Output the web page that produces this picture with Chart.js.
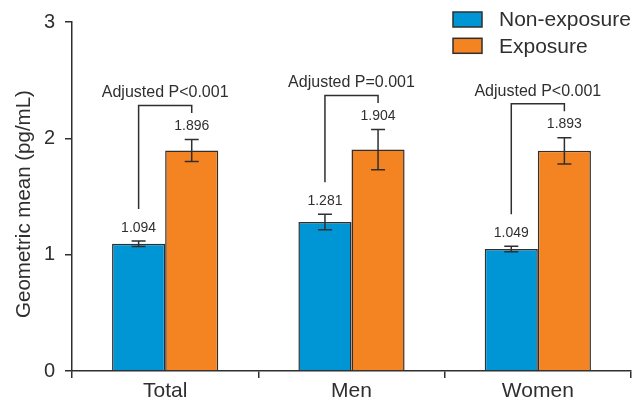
<!DOCTYPE html>
<html>
<head>
<meta charset="utf-8">
<script src="https://cdn.jsdelivr.net/npm/chart.js@4"></script>
<style>
    html, body { margin: 0; padding: 0; background: #fff; }
    #wrap { width: 633px; height: 405px; }
</style>
</head>
<body>
<div id="wrap"><canvas id="GeoChart" width="633" height="405"></canvas></div>
<script>
// ---------------- Data ----------------
const categories = ["Total", "Men", "Women"];
const seriesNames = ["Non-exposure", "Exposure"];

const nonExposure = [1.094, 1.281, 1.049];
const exposure = [1.896, 1.904, 1.893];

// half-length of error bars
const nonExposureErr = [0.023, 0.067, 0.023];
const exposureErr = [0.095, 0.173, 0.113];

const pLabels = ["Adjusted P<0.001", "Adjusted P=0.001", "Adjusted P<0.001"];

const yTicks = [0, 1, 2, 3];
const yTitle = "Geometric mean (pg/mL)";

const FONT = "'Liberation Sans', Arial, sans-serif";
const INK = "#2f2f2f";
const colors = ["#0096d6", "#f48421"];


// ---------------- Error bars, value labels, brackets ----------------
const annotatePlugin = {
    id: "annotate",
    afterDatasetsDraw(chart) {
        const ctx = chart.ctx;
        const y = chart.scales.y;
        const errs = [nonExposureErr, exposureErr];
        const capTop = [[], []];

        ctx.save();
        ctx.strokeStyle = INK;
        ctx.fillStyle = INK;
        ctx.lineWidth = 1.5;
        ctx.font = "14px " + FONT;
        ctx.textAlign = "center";
        ctx.textBaseline = "middle";

        chart.data.datasets.forEach((ds, di) => {
            const meta = chart.getDatasetMeta(di);
            meta.data.forEach((bar, i) => {
                const v = ds.data[i];
                const hi = y.getPixelForValue(v + errs[di][i]);
                const lo = y.getPixelForValue(v - errs[di][i]);
                const x = bar.x;
                ctx.beginPath();
                ctx.moveTo(x, hi); ctx.lineTo(x, lo);
                ctx.moveTo(x - 7, hi); ctx.lineTo(x + 7, hi);
                ctx.moveTo(x - 7, lo); ctx.lineTo(x + 7, lo);
                ctx.stroke();
                ctx.fillText(v.toFixed(3), x, hi - 13);
                capTop[di][i] = hi;
            });
        });

        const m0 = chart.getDatasetMeta(0);
        const m1 = chart.getDatasetMeta(1);
        ctx.font = "16px " + FONT;
        categories.forEach((c, i) => {
            const xl = m0.data[i].x;
            const xr = m1.data[i].x;
            const top = capTop[1][i] - 34;
            const leftBottom = capTop[0][i] - 32;
            ctx.beginPath();
            ctx.moveTo(xl, leftBottom);
            ctx.lineTo(xl, top);
            ctx.lineTo(xr, top);
            ctx.lineTo(xr, top + 7.5);
            ctx.stroke();
            ctx.fillText(pLabels[i], (xl + xr) / 2, top - 12.5);
        });

        ctx.restore();
    }
};


// ---------------- Legend + y title ----------------
const legendPlugin = {
    id: "boxLegend",
    afterDraw(chart) {
        const ctx = chart.ctx;
        ctx.save();
        ctx.font = "21px " + FONT;
        ctx.textBaseline = "middle";
        ctx.textAlign = "left";
        chart.data.datasets.forEach((ds, i) => {
            const top = 12 + i * 26.3;
            ctx.fillStyle = ds.backgroundColor;
            ctx.fillRect(453, top, 29, 15);
            ctx.strokeStyle = INK;
            ctx.lineWidth = 1.5;
            ctx.strokeRect(453, top, 29, 15);
            ctx.fillStyle = INK;
            ctx.fillText(ds.label, 499, top + 8.5);
        });

        // axis title, sits a little below the chart-area centre in the original
        ctx.translate(24, 204);
        ctx.rotate(-Math.PI / 2);
        ctx.textAlign = "center";
        ctx.font = "20.5px " + FONT;
        ctx.fillText(yTitle, 0, 0);
        ctx.restore();
    }
};


// ---------------- Chart ----------------
document.addEventListener("DOMContentLoaded", () => {

    const ctx = document.getElementById("GeoChart").getContext("2d");

    new Chart(ctx, {
        type: "bar",
        data: {
            labels: categories,
            datasets: [nonExposure, exposure].map((values, i) => ({
                label: seriesNames[i],
                data: values,
                backgroundColor: colors[i],
                borderColor: INK,
                borderWidth: 1.5,
                borderSkipped: "bottom",
                categoryPercentage: 0.57,
                barPercentage: 1
            }))
        },
        options: {
            responsive: false,
            animation: false,
            devicePixelRatio: 1,
            layout: { padding: { top: 20, right: 2, left: 0, bottom: 0 } },
            plugins: {
                legend: { display: false },
                tooltip: { enabled: false }
            },
            scales: {
                x: {
                    grid: {
                        display: true,
                        offset: true,
                        drawOnChartArea: false,
                        drawTicks: true,
                        tickLength: 7,
                        color: INK,
                        lineWidth: 1.5
                    },
                    border: { color: INK, width: 1.5 },
                    ticks: {
                        color: INK,
                        font: { family: FONT, size: 21 },
                        padding: 1
                    },
                    afterFit(scale) { scale.height = 34; }
                },
                y: {
                    min: 0,
                    max: 3,
                    afterBuildTicks(scale) {
                        scale.ticks = yTicks.map(v => ({ value: v }));
                    },
                    grid: {
                        display: true,
                        drawOnChartArea: false,
                        drawTicks: true,
                        tickLength: 7,
                        color: INK,
                        lineWidth: 1.5
                    },
                    border: { color: INK, width: 1.5 },
                    ticks: {
                        color: INK,
                        font: { family: FONT, size: 20 },
                        padding: 10
                    },
                    afterFit(scale) { scale.width = 72; }
                }
            }
        },
        plugins: [annotatePlugin, legendPlugin]
    });

});
</script>
</body>
</html>
